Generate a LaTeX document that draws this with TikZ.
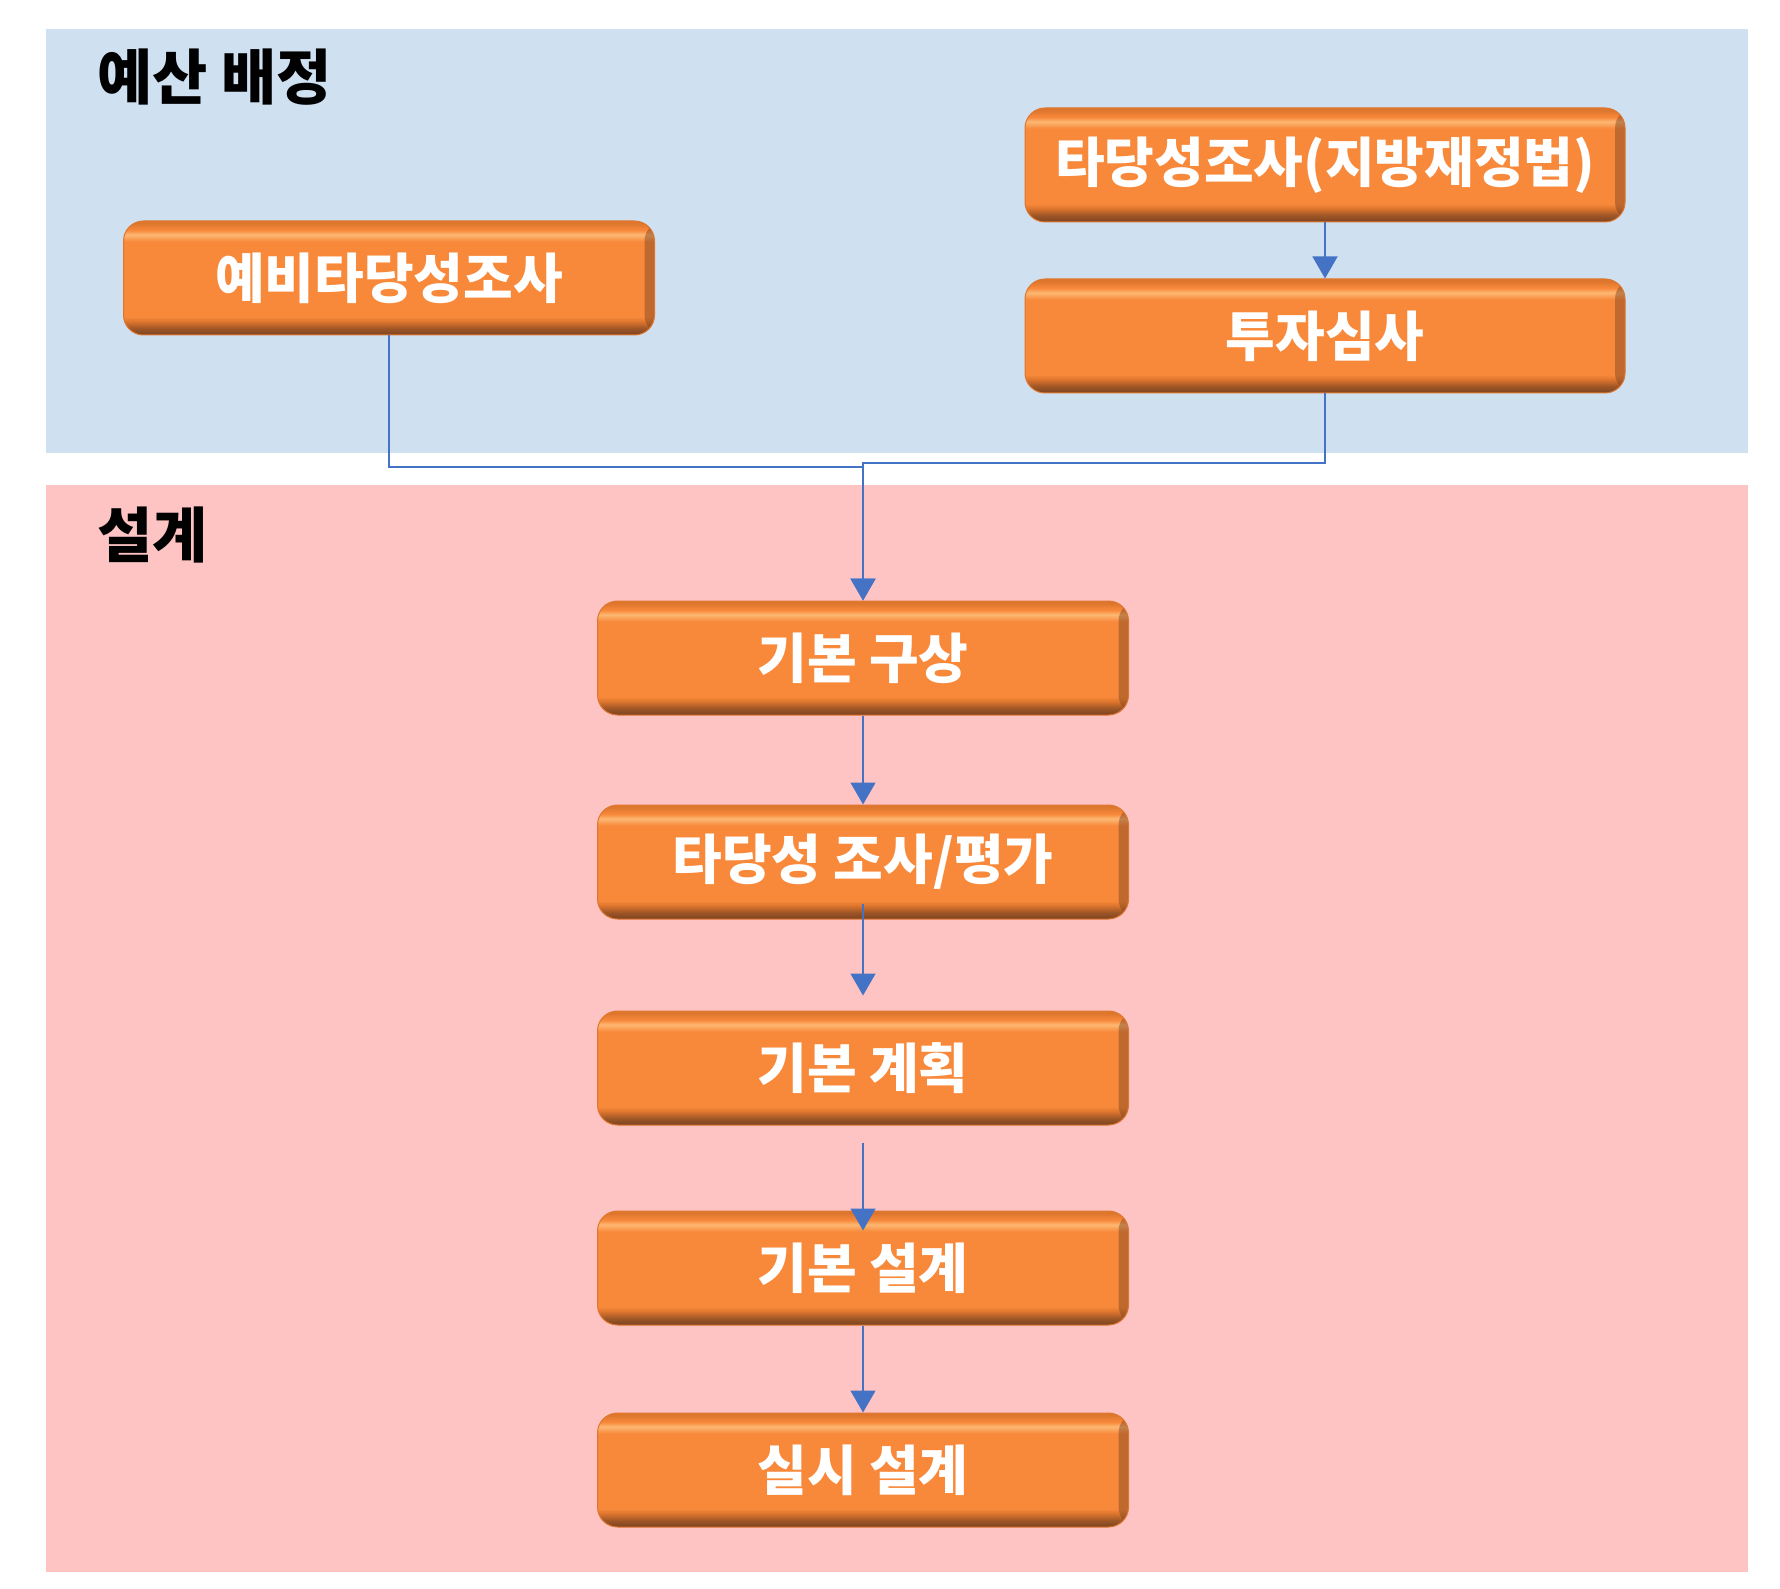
\documentclass[tikz,border=0pt]{standalone}
\usepackage{fontspec}
\setmainfont{Noto Sans CJK KR}
\usetikzlibrary{arrows.meta}

\definecolor{bandblue}{RGB}{207,224,241}
\definecolor{bandpink}{RGB}{254,196,196}
\definecolor{linkblue}{RGB}{68,114,196}
\definecolor{boxbody}{RGB}{248,137,59}
\definecolor{boxlight}{RGB}{253,184,115}
\definecolor{boxdark}{RGB}{122,66,32}
\definecolor{boxbrown}{RGB}{160,86,38}
\definecolor{boxmid}{RGB}{222,118,46}

\pgfdeclareverticalshading{bevel}{100bp}{color(0bp)=(boxdark); color(25bp)=(boxdark); color(28bp)=(boxbrown); color(31bp)=(boxmid); color(33bp)=(boxbody); color(66bp)=(boxbody); color(69bp)=(boxlight); color(71bp)=(boxbody); color(74bp)=(boxmid); color(100bp)=(boxmid)}
\pgfdeclarehorizontalshading{rightedge}{100bp}{color(0bp)=(boxbody); color(25bp)=(boxbody); color(50bp)=(boxmid); color(75bp)=(boxdark); color(100bp)=(boxdark)}

\begin{document}
\begin{tikzpicture}[x=0.5pt, y=-0.5pt,
    stepbox/.style={rectangle, rounded corners=10pt, shade, shading=bevel, draw=boxmid, line width=0.5pt,
        minimum width=265.5pt, minimum height=57pt, inner sep=0pt, text=white,
        font=\bfseries\fontsize{27}{32}\selectfont,
        path picture={
            \shade[shading=rightedge, opacity=0.45]
                ([xshift=-5pt]path picture bounding box.north east) rectangle (path picture bounding box.south east);
        }},
    wide/.style={minimum width=300pt},
    title/.style={anchor=west, inner sep=0pt, font=\bfseries\fontsize{30}{36}\selectfont},
    link/.style={draw=linkblue, line width=0.75pt, -{Triangle[width=12.5pt, length=11pt]}}]

    \useasboundingbox (0,0) rectangle (1780,1588);

    % Background bands
    \fill[bandblue] (46,29) rectangle (1748,453);
    \fill[bandpink] (46,485) rectangle (1748,1572);

    % Band titles
    \node[title] (budget) at (97,77) {예산 배정};
    \node[title] (design) at (97,535) {설계};

    % Budget stage boxes
    \node[stepbox] (yebi) at (389,278) {예비타당성조사};
    \node[stepbox, wide] (tadang) at (1325,165) {타당성조사(지방재정법)};
    \node[stepbox, wide] (tuja) at (1325,336) {투자심사};

    % Design stage boxes
    \node[stepbox] (gusang) at (863,658) {기본 구상};
    \node[stepbox] (pyeongga) at (863,862) {타당성 조사/평가};
    \node[stepbox] (gyehoek) at (863,1068) {기본 계획};
    \node[stepbox] (gibon) at (863,1268) {기본 설계};
    \node[stepbox] (silsi) at (863,1470) {실시 설계};

    % Joining points
    \coordinate (jl) at (863,467);
    \coordinate (jr) at (863,463);

    % Connectors
    \draw[link] (tadang) -- (tuja);
    \draw[link] (yebi.south) |- (jl) -- (gusang.north);
    \draw[link] (tuja.south) |- (jr) -- (gusang.north);
    \draw[link] (gusang) -- (pyeongga);
    \draw[link, shorten <=-8pt, shorten >=7.5pt] (pyeongga) -- (gyehoek);
    \draw[link, shorten <=8.5pt, shorten >=-10pt] (gyehoek) -- (gibon);
    \draw[link] (gibon) -- (silsi);

\end{tikzpicture}
\end{document}
